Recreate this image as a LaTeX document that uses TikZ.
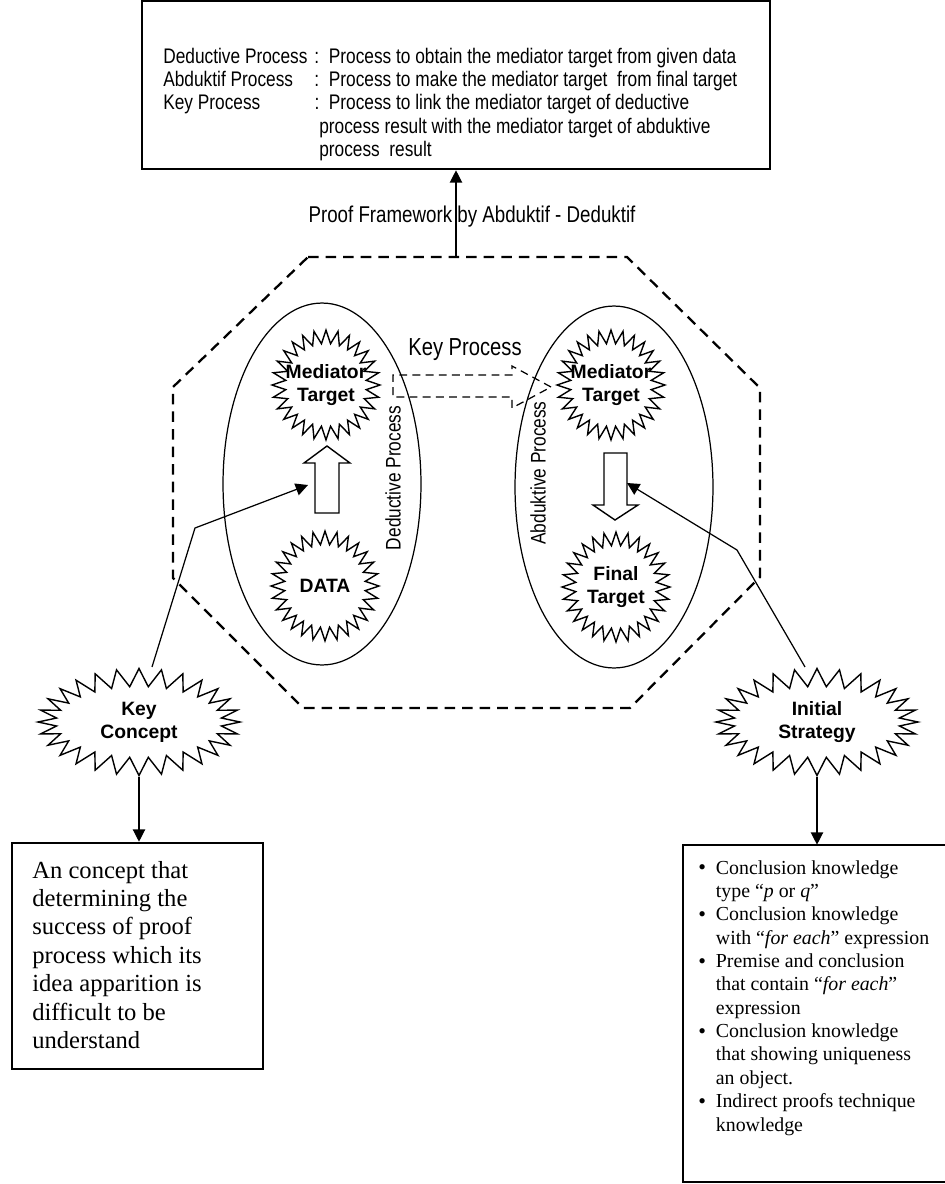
\documentclass[tikz,border=0pt]{standalone}
\usepackage{fontspec}
\setmainfont{Liberation Serif}
\setsansfont{Liberation Sans}
\newfontfamily\narrowsf{Liberation Sans}[FakeStretch=0.82]
\usetikzlibrary{arrows.meta, positioning, shapes.geometric, shapes.symbols}

\newcommand{\blt}{\makebox[10pt][l]{\raisebox{-0.4pt}{\fontsize{12.5}{13.3}\selectfont\textbullet}}}

\begin{document}
\begin{tikzpicture}[x=0.02cm, y=-0.02cm, >={Triangle[length=7pt, width=7pt]}]

	% Define styles
	\tikzstyle{burst} = [starburst, random starburst=0, draw, line width=0.8pt, inner sep=0pt]
	\tikzstyle{bursttext} = [font=\sffamily\bfseries\fontsize{11}{13}\selectfont, align=center, inner sep=0pt]
	\tikzstyle{target} = [burst, starburst points=28, starburst point height=0.27cm, minimum width=2.16cm, minimum height=2.2cm]
	\tikzstyle{cloud} = [burst, starburst points=28, starburst point height=0.36cm, minimum width=4.04cm, minimum height=2.14cm]
	\tikzstyle{process} = [ellipse, draw, line width=0.7pt, minimum width=3.96cm, minimum height=7.24cm, inner sep=0pt]
	\tikzstyle{hollow} = [draw, line width=0.8pt, line join=miter]
	\tikzstyle{link} = [->, line width=0.7pt]
	\tikzstyle{plainbox} = [rectangle, draw, line width=1.5pt, inner sep=0pt]

	\useasboundingbox (0,0) rectangle (945,1184);

	% Definitions box
	\node[plainbox, minimum width=12.56cm, minimum height=3.36cm] (defbox) at (456,85) {};
	\node[anchor=base west, inner sep=0pt, font=\narrowsf\fontsize{12}{13.3}\selectfont] (deftext) at (163,63) {\begin{tabular}[t]{@{}l@{\hspace{4pt}}l@{}}
		Deductive Process & :\ \ Process to obtain the mediator target from given data\\
		Abduktif Process & :\ \ Process to make the mediator target\ \ from final target\\
		Key Process & :\ \ Process to link the mediator target of deductive\\
		& \ process result with the mediator target of abduktive\\
		& \ process\ \ result
	\end{tabular}};

	% Frame
	\draw[line width=1.3pt, dash pattern=on 6pt off 4pt] (308,257) -- (627,257) -- (760,388) -- (760,577) -- (630,708) -- (303,708) -- (173,578) -- (173,387) -- cycle;
	\coordinate (frametop) at (456,257);
	\node[font=\narrowsf\fontsize{13}{15}\selectfont] (framelabel) at (472,217) {Proof Framework by Abduktif - Deduktif};
	\draw[link] (frametop) -- (defbox.south);

	% Process ellipses
	\node[process] (deduct) at (322,484) {};
	\node[process] (abduct) at (614,487) {};
	\node[font=\narrowsf\fontsize{12}{14}\selectfont, rotate=90] (deductlabel) at (393,478) {Deductive Process};
	\node[font=\narrowsf\fontsize{12}{14}\selectfont, rotate=90] (abductlabel) at (538,473) {Abduktive Process};

	% Targets
	\node[target, label={[bursttext]center:{Mediator\\Target}}] (medleft) at (326,385) {};
	\node[target, label={[bursttext]center:{DATA}}] (data) at (325,586) {};
	\node[target, label={[bursttext]center:{Mediator\\Target}}] (medright) at (611,385) {};
	\node[target, label={[bursttext]center:{Final\\Target}}] (final) at (616,587) {};

	% Hollow arrows
	\draw[hollow] (327,446) -- (350,463) -- (339,463) -- (339,513) -- (315,513) -- (315,463) -- (304,463) -- cycle;
	\coordinate (deducthit) at (308,485);
	\draw[hollow] (615,520) -- (638,505) -- (627,505) -- (627,453) -- (604,453) -- (604,505) -- (593,505) -- cycle;
	\coordinate (abducthit) at (627,483);

	% Key process
	\draw[hollow, line width=0.7pt, dash pattern=on 4.5pt off 3pt] (551,387) -- (512,366) -- (512,375) -- (393,375) -- (393,397) -- (512,397) -- (512,408) -- cycle;
	\node[font=\narrowsf\fontsize{14}{16}\selectfont] (keylabel) at (465,350) {Key Process};

	% Strategy bursts
	\node[cloud, label={[bursttext]center:{Key\\Concept}}] (concept) at (139,722) {};
	\node[cloud, label={[bursttext]center:{Initial\\Strategy}}] (strategy) at (817,722) {};

	% Connectors
	\coordinate (conceptbend) at (195,528);
	\coordinate (strategybend) at (737,550);
	\draw[link] ([xshift=0.26cm]concept.north) -- (conceptbend) -- (deducthit);
	\draw[link] ([xshift=-0.24cm]strategy.north) -- (strategybend) -- (abducthit);

	% Description boxes
	\node[plainbox, minimum width=5.02cm, minimum height=4.52cm] (conceptbox) at (137.5,956) {};
	\node[anchor=base west, inner sep=0pt, font=\fontsize{14}{16.2}\selectfont] (concepttext) at (32,878) {\begin{tabular}[t]{@{}l@{}}
		An concept that\\
		determining the\\
		success of proof\\
		process which its\\
		idea apparition is\\
		difficult to be\\
		understand
	\end{tabular}};
	\node[minimum width=5.24cm, minimum height=6.74cm, inner sep=0pt] (strategybox) at (814,1013.5) {};
	\draw[line width=1.2pt] (strategybox.north east) -- (strategybox.north west) -- (strategybox.south west) -- (strategybox.south east);
	\node[anchor=base west, inner sep=0pt, font=\fontsize{11.3}{13.3}\selectfont] (strategytext) at (698,874) {\begin{tabular}[t]{@{}l@{}l@{}}
		\blt & Conclusion knowledge\\
		& type ``\textit{p} or \textit{q}''\\
		\blt & Conclusion knowledge\\
		& with ``\textit{for each}'' expression\\
		\blt & Premise and conclusion\\
		& that contain ``\textit{for each}''\\
		& expression\\
		\blt & Conclusion knowledge\\
		& that showing uniqueness\\
		& an object.\\
		\blt & Indirect proofs technique\\
		& knowledge
	\end{tabular}};

	% Arrows to boxes
	\draw[link] (concept.south) -- (concept.south |- conceptbox.north);
	\draw[link] (strategy.south) -- (strategy.south |- strategybox.north);

\end{tikzpicture}
\end{document}
